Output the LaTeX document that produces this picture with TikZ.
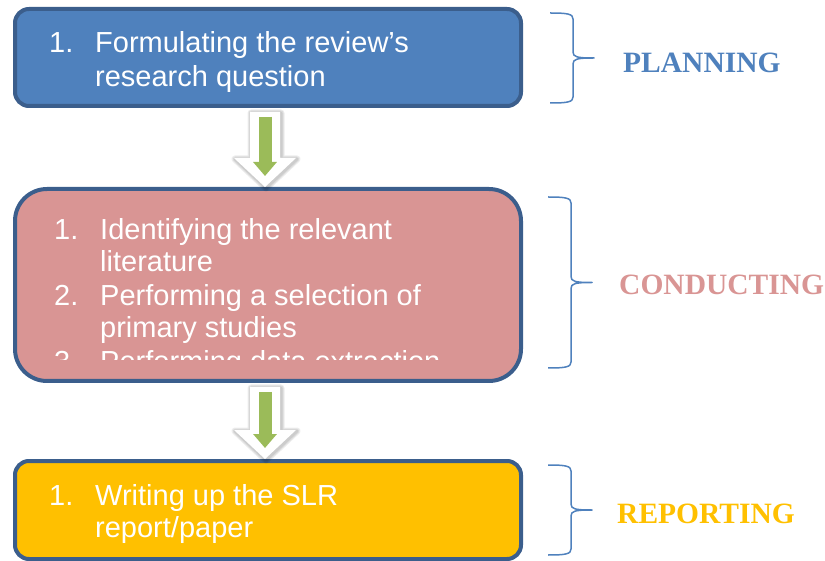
\documentclass[tikz,border=0pt]{standalone}
\usepackage{fontspec}
\setmainfont{Liberation Serif}
\setsansfont{Liberation Sans}
\usetikzlibrary{positioning,arrows.meta,calc}
\definecolor{planclr}{RGB}{79,129,189}
\definecolor{condclr}{RGB}{217,149,148}
\definecolor{reptclr}{RGB}{255,192,0}
\definecolor{edgeclr}{RGB}{59,94,140}
\definecolor{flowclr}{RGB}{155,187,89}
\tikzset{ %
  ,x=1pt,y=-1pt
  ,stage/.style={draw=edgeclr, line width=4pt, minimum width=506pt, inner sep=0, rounded corners=14pt}
  ,item/.style={anchor=base west, inner sep=0, text=white, font=\sffamily\fontsize{29}{33}\selectfont}
  ,phase/.style={anchor=base west, inner sep=0, font=\bfseries\fontsize{29.5}{33}\selectfont}
  ,bracket/.style={draw=planclr, line width=1.5pt, line join=round}
  ,flowin/.style={line width=13pt, flowclr, -{Triangle[width=23pt, length=14pt]}, shorten <=9pt, shorten >=11pt}
}
% right brace: x, top, bottom
\newcommand{\phasebrace}[3]{%
  \draw[bracket] (#1,#2) .. controls ({#1+18},#2) and ({#1+23},{#2+1}) .. ({#1+23},{#2+6})
    -- ({#1+23},{(#2+#3)/2-6}) .. controls ({#1+23},{(#2+#3)/2-1}) and ({#1+27},{(#2+#3)/2}) .. ({#1+44},{(#2+#3)/2})
    .. controls ({#1+27},{(#2+#3)/2}) and ({#1+23},{(#2+#3)/2+1}) .. ({#1+23},{(#2+#3)/2+6})
    -- ({#1+23},{#3-6}) .. controls ({#1+23},{#3-1}) and ({#1+18},#3) .. (#1,#3);}
\begin{document}
\begin{tikzpicture}
  \useasboundingbox (0,0) rectangle (825,561);
  % stages
  \node[stage, fill=planclr, minimum height=97pt] (plan) at (268,57.5) {};
  \node[stage, fill=condclr, minimum height=192pt, rounded corners=32pt] (cond) at (268,285) {};
  \node[stage, fill=reptclr, minimum height=98pt] (rept) at (268,510) {};
  % items
  \node[item] (p1) at (49,53) {1.};
  \node[item] (p1a) at (95,53) {Formulating the review’s};
  \node[item] (p1b) at (95,87) {research question};
  \node[item] (c1) at (54,240) {1.};
  \node[item] (c1a) at (100,240) {Identifying the relevant};
  \node[item] (c1b) at (100,272) {literature};
  \node[item] (c2) at (54,306) {2.};
  \node[item] (c2a) at (100,306) {Performing a selection of};
  \node[item] (c2b) at (100,338) {primary studies};
  \begin{scope}
    \clip (20,200) rectangle (515,360);
    \node[item] (c3) at (54,371) {3.};
    \node[item] (c3a) at (100,371) {Performing data extraction};
  \end{scope}
  \node[item] (r1) at (49,505) {1.};
  \node[item] (r1a) at (95,505) {Writing up the SLR};
  \node[item] (r1b) at (95,537) {report/paper};
  % arrows
  \foreach \a/\b in {plan/cond, cond/rept} {
    \coordinate (t) at ($(\a.south)+(-3,4)$);
    \coordinate (h) at ($(\b.north)+(-3,0)$);
    \foreach \w in {7,5,3}
      \draw[black, opacity=0.07, line width=\w pt, line join=round, transform canvas={xshift=1pt, yshift=-1pt}]
        ($(t)+(-15,0)$) -- ($(h)+(-15,-29)$) -- ($(h)+(-31,-29)$) -- (h) -- ($(h)+(31,-29)$) -- ($(h)+(15,-29)$) -- ($(t)+(15,0)$) -- cycle;
    \fill[white] ($(t)+(-15,0)$) -- ($(h)+(-15,-29)$) -- ($(h)+(-31,-29)$) -- (h) -- ($(h)+(31,-29)$) -- ($(h)+(15,-29)$) -- ($(t)+(15,0)$) -- cycle;
    \draw[flowin] (\a.south) ++(-3,0) -- ($(\b.north)+(-3,0)$);
  }
  % phases
  \phasebrace{550}{13}{103}
  \phasebrace{548}{197}{368}
  \phasebrace{548}{465}{555}
  \node[phase, text=planclr] (planning) at (623,73) {PLANNING};
  \node[phase, text=condclr] (conducting) at (619,295) {CONDUCTING};
  \node[phase, text=reptclr] (reporting) at (617,523) {REPORTING};
\end{tikzpicture}
\end{document}
